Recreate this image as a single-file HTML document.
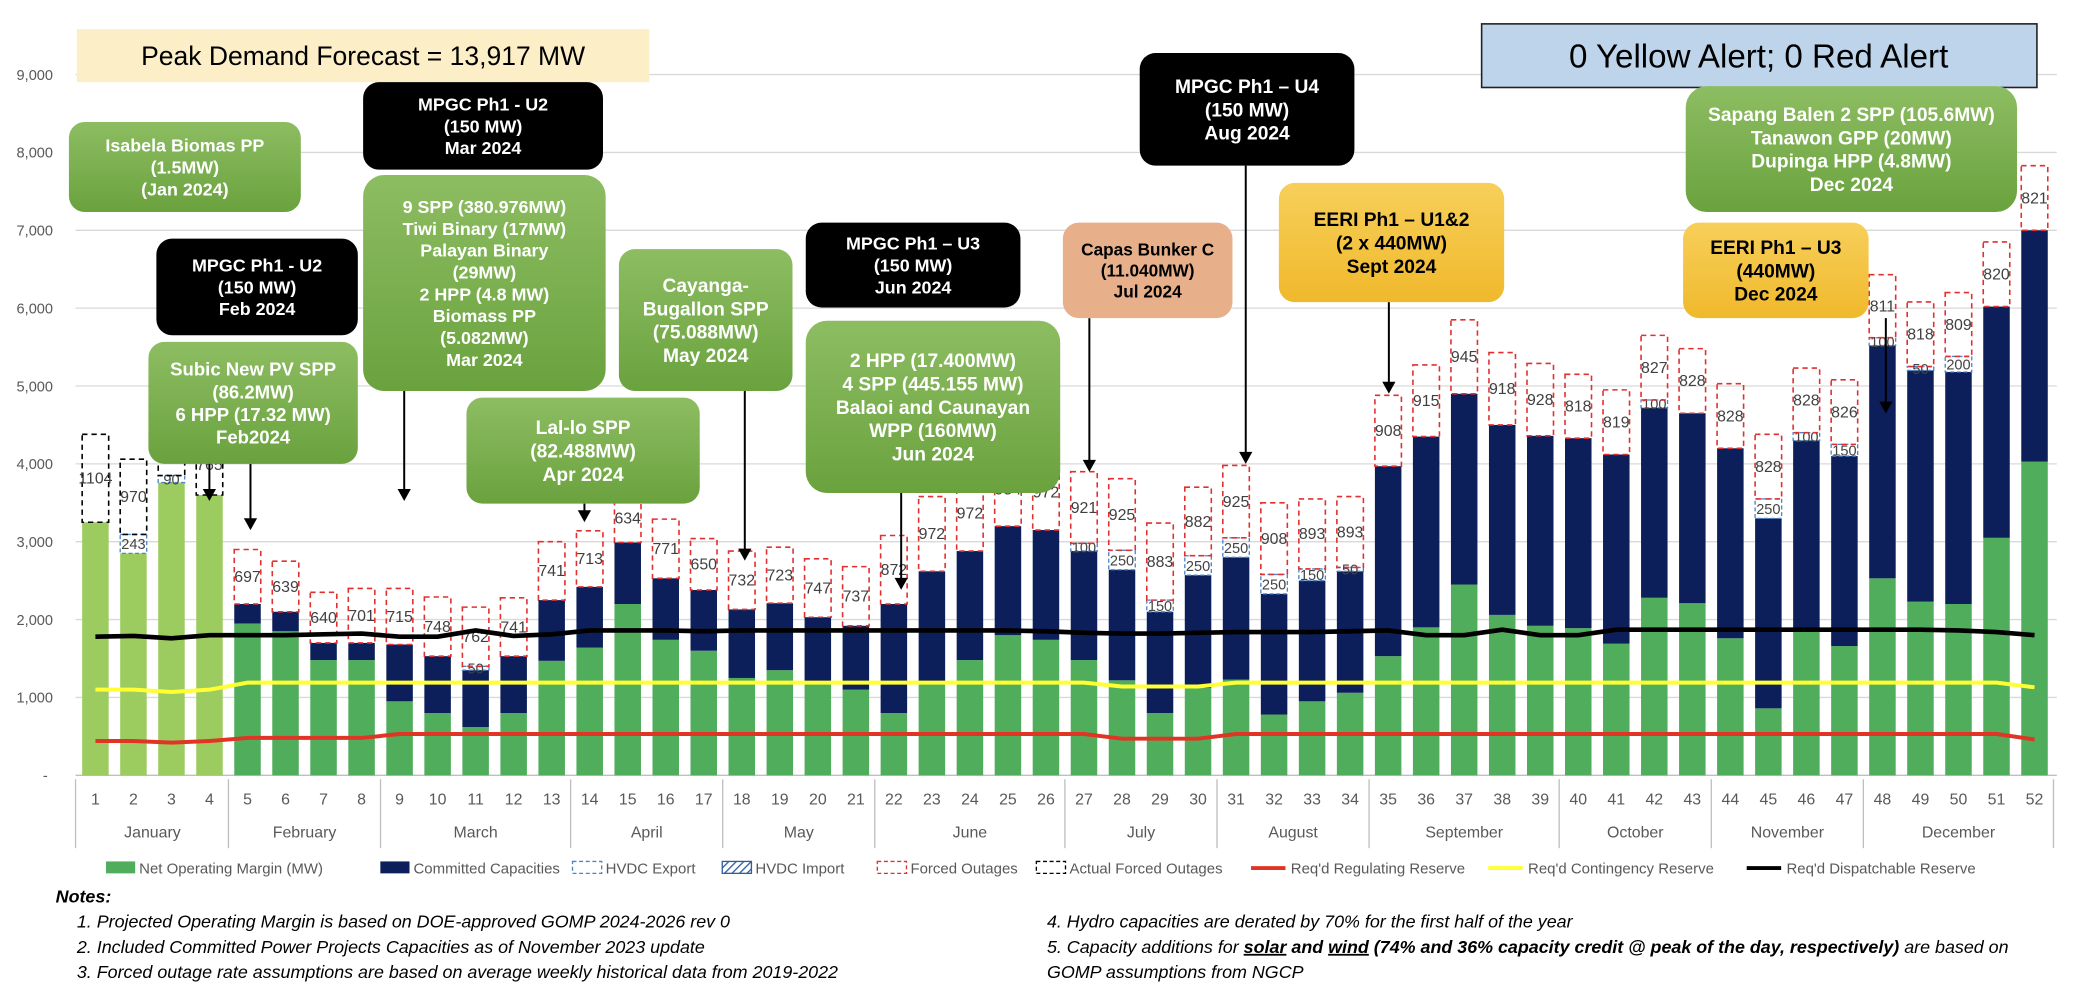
<!DOCTYPE html>
<html><head><meta charset="utf-8"><style>
html,body{margin:0;padding:0;background:#fff;width:2078px;height:990px;overflow:hidden}
svg{display:block}
text{font-family:"Liberation Sans",sans-serif}
</style></head><body>
<svg id="c" width="2078" height="990" viewBox="0 0 1568 747" xmlns="http://www.w3.org/2000/svg">
<defs>
<linearGradient id="gg" x1="0" y1="0" x2="0" y2="1"><stop offset="0" stop-color="#8dbd62"/><stop offset="1" stop-color="#6aa23e"/></linearGradient>
<linearGradient id="yg" x1="0" y1="0" x2="0" y2="1"><stop offset="0" stop-color="#f7cf5a"/><stop offset="1" stop-color="#f0b92c"/></linearGradient>
<pattern id="hatch" width="4" height="4" patternUnits="userSpaceOnUse" patternTransform="rotate(45)"><rect width="4" height="4" fill="#fff"/><line x1="0" y1="0" x2="0" y2="4" stroke="#2f5f9e" stroke-width="2"/></pattern>
</defs>
</svg>
<script>
const S=document.getElementById('c'),NS='http://www.w3.org/2000/svg';
function el(t,a,txt){const e=document.createElementNS(NS,t);for(const k in a)e.setAttribute(k,a[k]);if(txt!==undefined)e.textContent=txt;S.appendChild(e);return e;}
const Y0=585,K=0.05875;const y=v=>Y0-v*K;const X=i=>72+(i-1)*28.69;
for(let v=1000;v<=9000;v+=1000){el('line',{x1:57,x2:1552,y1:y(v),y2:y(v),stroke:'#d9d9d9','stroke-width':1});}
const lab=['-','1,000','2,000','3,000','4,000','5,000','6,000','7,000','8,000','9,000'];
lab.forEach((t,i)=>el('text',{x:i?40:36,y:y(i*1000)+4,'text-anchor':'end','font-size':11,fill:'#595959'},t));
el('line',{x1:57,x2:1552,y1:Y0,y2:Y0,stroke:'#bfbfbf'});
const D=[[3250,0,0,4380,'1104',1],[2850,0,243,4060,'970',1],[3760,0,90,4300,'90',1],[3600,0,0,4380,'765',1],
[1950,2200,0,2900,'697'],[1850,2100,0,2750,'639'],[1480,1700,0,2350,'640'],[1480,1700,0,2400,'701'],[950,1680,0,2400,'715'],[800,1530,0,2290,'748'],[620,1350,50,2160,'762'],[800,1530,0,2280,'741'],[1470,2250,0,3000,'741'],
[1640,2420,0,3140,'713'],[2200,2990,0,3620,'634'],[1740,2530,0,3290,'771'],[1600,2380,0,3040,'650'],[1250,2130,0,2880,'732'],[1350,2210,0,2930,'723'],[1200,2030,0,2780,'747'],[1100,1920,0,2680,'737'],
[800,2200,0,3080,'872'],[1200,2620,0,3580,'972'],[1480,2880,0,3850,'972'],[1800,3200,0,4150,'954'],[1740,3150,0,4120,'972'],[1480,2880,100,3900,'921'],[1220,2640,250,3810,'925'],[800,2100,150,3240,'883'],[1120,2570,250,3700,'882'],[1230,2800,250,3980,'925'],[780,2330,250,3500,'908'],[950,2500,150,3550,'893'],[1060,2620,50,3580,'893'],
[1530,3970,0,4880,'908'],[1900,4350,0,5270,'915'],[2450,4900,0,5850,'945'],[2060,4500,0,5430,'918'],[1920,4360,0,5290,'928'],[1890,4330,0,5150,'818'],[1690,4120,0,4950,'819'],[2280,4720,100,5650,'827'],[2210,4650,0,5480,'828'],[1760,4200,0,5030,'828'],[860,3300,250,4380,'828'],[1860,4300,100,5230,'828'],[1660,4100,150,5080,'826'],[2530,5520,100,6430,'811'],[2230,5200,50,6080,'818'],[2200,5180,200,6200,'809'],[3050,6020,0,6850,'820'],[4030,7000,0,7830,'821']];
const W=20;
D.forEach((d,k)=>{const i=k+1,cx=X(i),x0=cx-W/2;let [g,n,h,o,l,lt]=d;
 el('rect',{x:x0,y:y(g),width:W,height:g*K,fill:lt?'#9ccc5f':'#4fad5b'});
 let top=g; if(n){el('rect',{x:x0,y:y(n),width:W,height:(n-g)*K,fill:'#0c1f5a'});top=n;}
 if(h){el('rect',{x:x0,y:y(top+h),width:W,height:h*K,fill:'none',stroke:'#4a86c8','stroke-dasharray':'3,2','stroke-width':1});
   el('text',{x:cx,y:y(top+h/2)+4,'text-anchor':'middle','font-size':11,fill:'#444'},String(h));top+=h;}
 el('rect',{x:x0,y:y(o),width:W,height:(o-top)*K,fill:'none',stroke:lt?'#000':'#e03030','stroke-dasharray':'4,3','stroke-width':1.2});
 el('text',{x:cx,y:y((o+top)/2)+4,'text-anchor':'middle','font-size':12,fill:'#404040'},l);
});
const B=[1780,1790,1760,1800,1800,1800,1810,1820,1780,1780,1860,1790,1810,1860,1860,1860,1850,1860,1860,1860,1860,1860,1860,1860,1860,1850,1830,1820,1820,1830,1840,1840,1840,1850,1860,1800,1800,1870,1800,1800,1870,1870,1870,1870,1870,1870,1870,1870,1870,1860,1840,1800];
const Yl=B.map((v,k)=>k<4?1100+(k==2?-30:0):(k>=27&&k<=29?1140:(k>50?1130:1190)));
const R=B.map((v,k)=>k<4?440+(k==2?-20:0):(k>=27&&k<=29?470:(k>50?460:(k<8?480:530))));
function pl(a,c,w){el('polyline',{points:a.map((v,k)=>X(k+1)+','+y(v)).join(' '),fill:'none',stroke:c,'stroke-width':w,'stroke-linejoin':'round'});}
pl(R,'#e03524',3);pl(Yl,'#ffff33',3);pl(B,'#000',3.5);
for(let i=1;i<=52;i++)el('text',{x:X(i),y:607,'text-anchor':'middle','font-size':12,fill:'#595959'},String(i));
const M=[['January',1,4],['February',5,8],['March',9,13],['April',14,17],['May',18,21],['June',22,26],['July',27,30],['August',31,34],['September',35,39],['October',40,43],['November',44,47],['December',48,52]];
el('line',{x1:57,x2:57,y1:588,y2:640,stroke:'#bfbfbf'});
M.forEach(m=>{const a=X(m[1])-14.3,b=X(m[2])+14.3;el('line',{x1:b,x2:b,y1:588,y2:640,stroke:'#bfbfbf'});el('text',{x:(a+b)/2,y:632,'text-anchor':'middle','font-size':12,fill:'#595959'},m[0]);});
const LG=[[80,'g','Net Operating Margin (MW)'],[287,'n','Committed Capacities'],[432,'hx','HVDC Export'],[545,'hi','HVDC Import'],[662,'fo','Forced Outages'],[782,'af','Actual Forced Outages'],[944,'rl',"Req'd Regulating Reserve"],[1123,'yl',"Req'd Contingency Reserve"],[1318,'bl',"Req'd Dispatchable Reserve"]];
LG.forEach(([x,t,s])=>{const yy=655;
 if(t=='g')el('rect',{x:x,y:yy-5,width:22,height:9,fill:'#4fad5b'});
 if(t=='n')el('rect',{x:x,y:yy-5,width:22,height:9,fill:'#0c1f5a'});
 if(t=='hx')el('rect',{x:x,y:yy-5,width:22,height:9,fill:'none',stroke:'#4a86c8','stroke-dasharray':'3,2'});
 if(t=='hi')el('rect',{x:x,y:yy-5,width:22,height:9,fill:'url(#hatch)',stroke:'#2f5f9e'});
 if(t=='fo')el('rect',{x:x,y:yy-5,width:22,height:9,fill:'none',stroke:'#e03030','stroke-dasharray':'3,2'});
 if(t=='af')el('rect',{x:x,y:yy-5,width:22,height:9,fill:'none',stroke:'#000','stroke-dasharray':'3,2'});
 if(t=='rl')el('line',{x1:x,x2:x+26,y1:yy,y2:yy,stroke:'#e03524','stroke-width':3});
 if(t=='yl')el('line',{x1:x,x2:x+26,y1:yy,y2:yy,stroke:'#ffff33','stroke-width':3});
 if(t=='bl')el('line',{x1:x,x2:x+26,y1:yy,y2:yy,stroke:'#000','stroke-width':3});
 el('text',{x:x+(t.length==2&&t[1]=='l'?30:25),y:yy+4,'font-size':11.3,fill:'#595959'},s);});
const nt={'font-size':13.5,'font-style':'italic',fill:'#000'};
el('text',Object.assign({x:42,y:681,'font-weight':'bold'},nt),'Notes:');
el('text',Object.assign({x:58,y:700},nt),'1. Projected Operating Margin is based on DOE-approved GOMP 2024-2026 rev 0');
el('text',Object.assign({x:58,y:719},nt),'2. Included Committed Power Projects Capacities as of November 2023 update');
el('text',Object.assign({x:58,y:738},nt),'3. Forced outage rate assumptions are based on average weekly historical data from 2019-2022');
el('text',Object.assign({x:790,y:700},nt),'4. Hydro capacities are derated by 70% for the first half of the year');
const t5=el('text',Object.assign({x:790,y:719},nt));
t5.innerHTML='5. Capacity additions for <tspan font-weight="bold" text-decoration="underline">solar</tspan><tspan font-weight="bold"> and </tspan><tspan font-weight="bold" text-decoration="underline">wind</tspan><tspan font-weight="bold"> (74% and 36% capacity credit @ peak of the day, respectively)</tspan> are based on';
el('text',Object.assign({x:790,y:738},nt),'GOMP assumptions from NGCP');
[[158,330,378],[189,350,400],[305,295,378],[441,380,394],[562,295,423],[680,372,445],[822,240,356],[940,125,350],[1048,228,297],[1423,240,312]].forEach(a=>{
 el('line',{x1:a[0],x2:a[0],y1:a[1],y2:a[2]-7,stroke:'#000','stroke-width':1.5});
 el('path',{d:`M${a[0]-5},${a[2]-9} L${a[0]+5},${a[2]-9} L${a[0]},${a[2]} z`,fill:'#000'});});
function box(x,y0,w,h,fill,col,lines,fs,r){el('rect',{x:x,y:y0,width:w,height:h,rx:r||12,fill:fill});
 const lh=fs*1.22,st=y0+h/2-(lines.length-1)*lh/2+fs*0.36;
 lines.forEach((s,i)=>el('text',{x:x+w/2,y:st+i*lh,'text-anchor':'middle','font-size':fs,'font-weight':'bold',fill:col},s));}
el('rect',{x:58,y:22,width:432,height:40,fill:'#fcefc8'});
el('text',{x:274,y:49,'text-anchor':'middle','font-size':20,fill:'#000'},'Peak Demand Forecast = 13,917 MW');
el('rect',{x:1118,y:18,width:419,height:48,fill:'#bdd4ea',stroke:'#222','stroke-width':1.2});
el('text',{x:1327,y:51,'text-anchor':'middle','font-size':25,fill:'#000'},'0 Yellow Alert; 0 Red Alert');
box(52,92,175,68,'url(#gg)','#fff',['Isabela Biomas PP','(1.5MW)','(Jan 2024)'],13.5);
box(118,180,152,73,'#000','#fff',['MPGC Ph1 - U2','(150 MW)','Feb 2024'],13.5);
box(112,258,158,92,'url(#gg)','#fff',['Subic New PV SPP','(86.2MW)','6 HPP (17.32 MW)','Feb2024'],14);
box(274,62,181,66,'#000','#fff',['MPGC Ph1 - U2','(150 MW)','Mar 2024'],13.5);
box(274,132,183,163,'url(#gg)','#fff',['9 SPP (380.976MW)','Tiwi Binary (17MW)','Palayan Binary','(29MW)','2 HPP (4.8 MW)','Biomass PP','(5.082MW)','Mar 2024'],13.5,16);
box(467,188,131,107,'url(#gg)','#fff',['Cayanga-','Bugallon SPP','(75.088MW)','May 2024'],14.5);
box(352,300,176,80,'url(#gg)','#fff',['Lal-lo SPP','(82.488MW)','Apr 2024'],14.5);
box(608,168,162,64,'#000','#fff',['MPGC Ph1 – U3','(150 MW)','Jun 2024'],13.5);
box(608,242,192,130,'url(#gg)','#fff',['2 HPP (17.400MW)','4 SPP (445.155 MW)','Balaoi and Caunayan','WPP (160MW)','Jun 2024'],14.5,16);
box(802,168,128,72,'#e8b08a','#000',['Capas Bunker C','(11.040MW)','Jul 2024'],13);
box(860,40,162,85,'#000','#fff',['MPGC Ph1 – U4','(150 MW)','Aug 2024'],14.5);
box(965,138,170,90,'url(#yg)','#000',['EERI Ph1 – U1&2','(2 x 440MW)','Sept 2024'],14.5);
box(1272,65,250,95,'url(#gg)','#fff',['Sapang Balen 2 SPP (105.6MW)','Tanawon GPP (20MW)','Dupinga HPP (4.8MW)','Dec 2024'],14.5,16);
box(1270,168,140,72,'url(#yg)','#000',['EERI Ph1 – U3','(440MW)','Dec 2024'],14.5);
</script>
</body></html>
